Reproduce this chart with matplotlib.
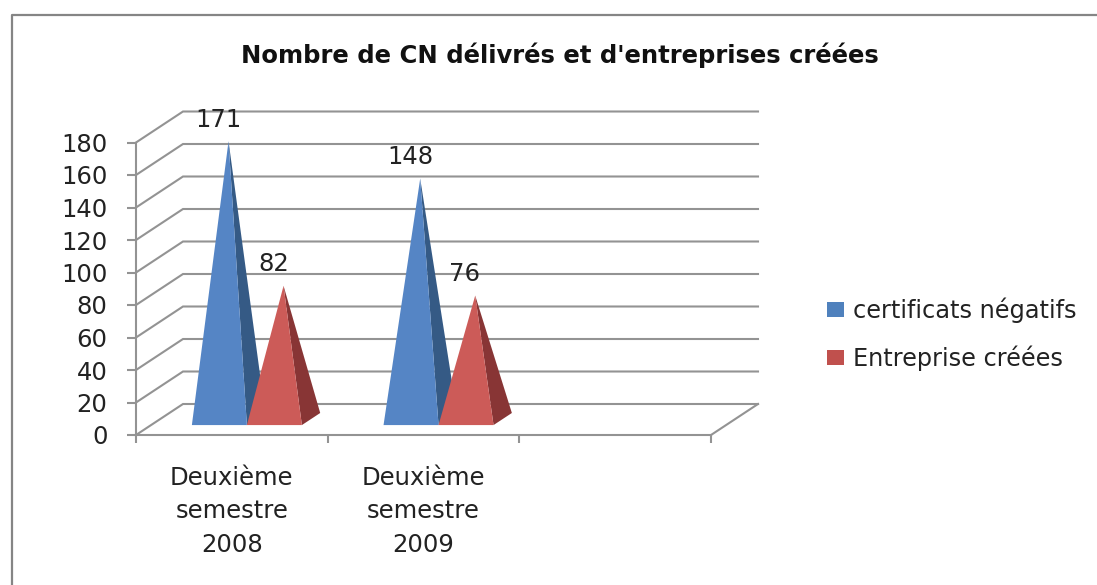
import matplotlib
matplotlib.use("Agg")
import matplotlib.pyplot as plt
from matplotlib.patches import Patch, Polygon
from matplotlib.lines import Line2D

title = "Nombre de CN délivrés et d'entreprises créées"
categories = ["Deuxième\nsemestre\n2008", "Deuxième\nsemestre\n2009", ""]
certificats = [171, 148]
entreprises = [82, 76]
series_names = ["certificats négatifs", "Entreprise créées"]
yticks = list(range(0, 181, 20))

W, H = 1097, 585
AX_L, AX_R, AX_T, AX_B = 136, 711, 142.5, 435
DX = 47 / ((AX_R - AX_L) / 3)           # wall depth, category units
DY = 31 / ((AX_B - AX_T) / 180)         # wall depth, value units
BAR_W = 55 / ((AX_R - AX_L) / 3)
F_FRONT, F_BACK = 0.32, 0.71
GRID = "#939393"
TXT = "#222222"
FONT = "DejaVu Sans"
FS_TICK = 17.5
LW = 1.5

plt.rcParams["font.family"] = FONT
fig = plt.figure(figsize=(W / 100, H / 100), dpi=100, facecolor="white")
ax = fig.add_axes([AX_L / W, 1 - AX_B / H, (AX_R - AX_L) / W, (AX_B - AX_T) / H])
ax.set_xlim(0, 3)
ax.set_ylim(0, 180)
ax.patch.set_alpha(0)


def ob(x, v, f):
    return x + f * DX, v + f * DY


# wall and floor
for t in yticks:
    ax.plot([ob(0, t, 0)[0], ob(0, t, 1)[0], ob(3, t, 1)[0]],
            [ob(0, t, 0)[1], ob(0, t, 1)[1], ob(3, t, 1)[1]],
            color=GRID, lw=LW, clip_on=False, zorder=1, solid_joinstyle="miter")
ax.plot([ob(3, 0, 0)[0], ob(3, 0, 1)[0]], [0, DY], color=GRID, lw=LW, clip_on=False, zorder=1)


def pyramid(cx_left, value, front, side):
    x0, x1 = cx_left, cx_left + BAR_W
    xm = cx_left + BAR_W / 2
    apex = ob(xm, value, (F_FRONT + F_BACK) / 2)
    fl, fr = ob(x0, 0, F_FRONT), ob(x1, 0, F_FRONT)
    br = ob(x1, 0, F_BACK)
    ax.add_patch(Polygon([fr, br, apex], closed=True, fc=side, ec="none", zorder=3, clip_on=False))
    ax.add_patch(Polygon([fl, fr, apex], closed=True, fc=front, ec="none", zorder=3.1, clip_on=False))
    ax.annotate(str(value), apex, xytext=(-7.4, 15.5), textcoords="offset points",
                ha="center", va="center", fontsize=FS_TICK, color=TXT, zorder=6,
                annotation_clip=False)


for i, (a, b) in enumerate(zip(certificats, entreprises)):
    pyramid(i + 0.5 - BAR_W, a, "#5585C5", "#355A85")
    pyramid(i + 0.5, b, "#CC5B58", "#883535")

# axes
for s in ("top", "right"):
    ax.spines[s].set_visible(False)
for s in ("left", "bottom"):
    ax.spines[s].set_color(GRID)
    ax.spines[s].set_linewidth(LW)
ax.set_yticks(yticks)
ax.set_xticks([0, 1, 2, 3])
ax.set_xticklabels([])
ax.set_xticks([0.5, 1.5, 2.5], minor=True)
ax.set_xticklabels(categories, minor=True, linespacing=1.5)
ax.tick_params(axis="y", length=6.5, width=LW, color=GRID, labelsize=FS_TICK, labelcolor=TXT, pad=14)
ax.tick_params(axis="x", which="major", length=6, width=LW, color=GRID)
ax.tick_params(axis="x", which="minor", length=0, labelsize=17.5, labelcolor=TXT, pad=22)

fig.text(560 / W, 1 - 55 / H, title, ha="center", va="center", fontsize=17.5,
         fontweight="bold", color="#111111")

handles = [Patch(fc="#4F81BD", ec="none"), Patch(fc="#C0504D", ec="none")]
fig.legend(handles, series_names, loc="center left", bbox_to_anchor=(827 / W, 1 - 334 / H),
           frameon=False, fontsize=17.3, labelcolor=TXT, handlelength=0.71, handleheight=0.58,
           handletextpad=0.375, labelspacing=0.95, borderpad=0, borderaxespad=0)

# outer frame, open to the right and bottom image edges
fig.add_artist(Line2D([11.5 / W, 11.5 / W, 1], [0, 1 - 14.5 / H, 1 - 14.5 / H],
                      transform=fig.transFigure, color="#858585", lw=1.6))

fig.savefig("out.png", dpi=100)
